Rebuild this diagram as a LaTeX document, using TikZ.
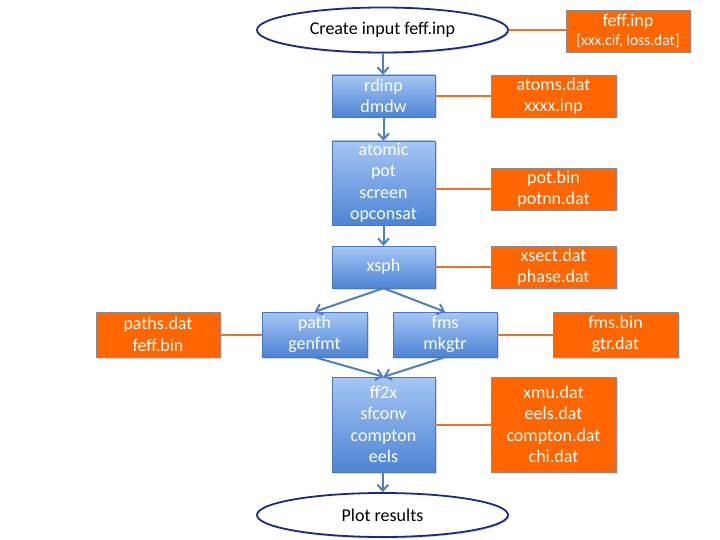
\documentclass[tikz,border=0pt]{standalone}
\usepackage{fontspec}
\setmainfont{Carlito}
\usetikzlibrary{shapes.geometric, shadows, arrows.meta}
\definecolor{progtop}{HTML}{A6C6F5}
\definecolor{progbot}{HTML}{4C84D4}
\definecolor{progline}{HTML}{4A78B8}
\definecolor{outfill}{HTML}{FF6600}
\definecolor{outline}{HTML}{8C8C8C}
\definecolor{termline}{HTML}{1C2A80}
\definecolor{flowblue}{HTML}{4F7FBF}
\definecolor{linkorange}{HTML}{E8742A}
\tikzset{
    prog/.style={rectangle, draw=progline, top color=progtop, bottom color=progbot, text=white, minimum width=103pt, align=center, inner sep=0pt, font=\fontsize{18}{21.5}\selectfont, drop shadow={shadow xshift=1.5pt, shadow yshift=-1.5pt, opacity=0.3}},
    outfile/.style={rectangle, draw=outline, fill=outfill, text=white, minimum width=125pt, align=center, inner sep=0pt, font=\fontsize{18}{21.5}\selectfont, drop shadow={shadow xshift=1.5pt, shadow yshift=-1.5pt, opacity=0.3}},
    terminal/.style={ellipse, draw=termline, line width=1.8pt, fill=white, minimum width=251pt, minimum height=45pt, inner sep=0pt, font=\fontsize{18}{21.5}\selectfont, drop shadow={shadow xshift=1.5pt, shadow yshift=-1.5pt, opacity=0.3}},
    flow/.style={-{Straight Barb[length=6pt, width=11pt, line width=2pt]}, draw=flowblue, line width=2pt},
    link/.style={draw=linkorange, line width=2pt}
}
\begin{document}
\begin{tikzpicture}[x=1pt, y=-1pt]
        \useasboundingbox (0, 0) rectangle (720, 540);
        \node[terminal] (create) at (382.5, 30) {Create input feff.inp};
        \node[prog, minimum height=42pt] (rdinp) at (383.5, 96) {rdinp\\dmdw};
        \node[prog, minimum height=84pt] (atomic) at (383.5, 183) {atomic\\pot\\screen\\opconsat};
        \node[prog, minimum height=42pt] (xsph) at (383.5, 267) {xsph};
        \node[prog, minimum height=45pt, minimum width=105pt] (path) at (314.5, 334.5) {path\\genfmt};
        \node[prog, minimum height=45pt, minimum width=104pt] (fms) at (445, 334.5) {fms\\mkgtr};
        \node[prog, minimum height=95pt] (ffx) at (383.5, 424.5) {ff2x\\sfconv\\compton\\eels};
        \node[terminal, minimum height=44pt] (plot) at (382.5, 515) {Plot results};

        \node[outfile, minimum height=42pt, minimum width=124pt] (feffinp) at (628, 31) {feff.inp\\[-3pt]{\fontsize{15.5}{17}\selectfont [xxx.cif, loss.dat]}};
        \node[outfile, minimum height=42pt] (atoms) at (553.5, 96) {atoms.dat\\xxxx.inp};
        \node[outfile, minimum height=42pt] (potbin) at (553.5, 189) {pot.bin\\potnn.dat};
        \node[outfile, minimum height=42pt] (xsect) at (553.5, 267) {xsect.dat\\phase.dat};
        \node[outfile, minimum height=45pt, minimum width=124pt] (paths) at (158, 334.5) {paths.dat\\feff.bin};
        \node[outfile, minimum height=45pt] (fmsbin) at (615.5, 334.5) {fms.bin\\gtr.dat};
        \node[outfile, minimum height=95pt] (xmu) at (553.5, 424.5) {xmu.dat\\eels.dat\\compton.dat\\chi.dat};

        \draw[flow] (create) -- (rdinp);
        \draw[flow] (rdinp) -- (atomic);
        \draw[flow] (atomic) -- (xsph);
        \draw[flow] (xsph.south) -- (path.north);
        \draw[flow] (xsph.south) -- (fms.north);
        \draw[flow] (path.south) -- (ffx.north);
        \draw[flow] (fms.south) -- (ffx.north);
        \draw[flow] (ffx) -- (plot);

        \draw[link] (create.east) -- (create.east -| feffinp.west);
        \draw[link] (rdinp) -- (atoms);
        \draw[link] (potbin.west -| atomic.east) -- (potbin.west);
        \draw[link] (xsph) -- (xsect);
        \draw[link] (path) -- (paths);
        \draw[link] (fms) -- (fmsbin);
        \draw[link] (ffx) -- (xmu);
    \end{tikzpicture}
\end{document}
